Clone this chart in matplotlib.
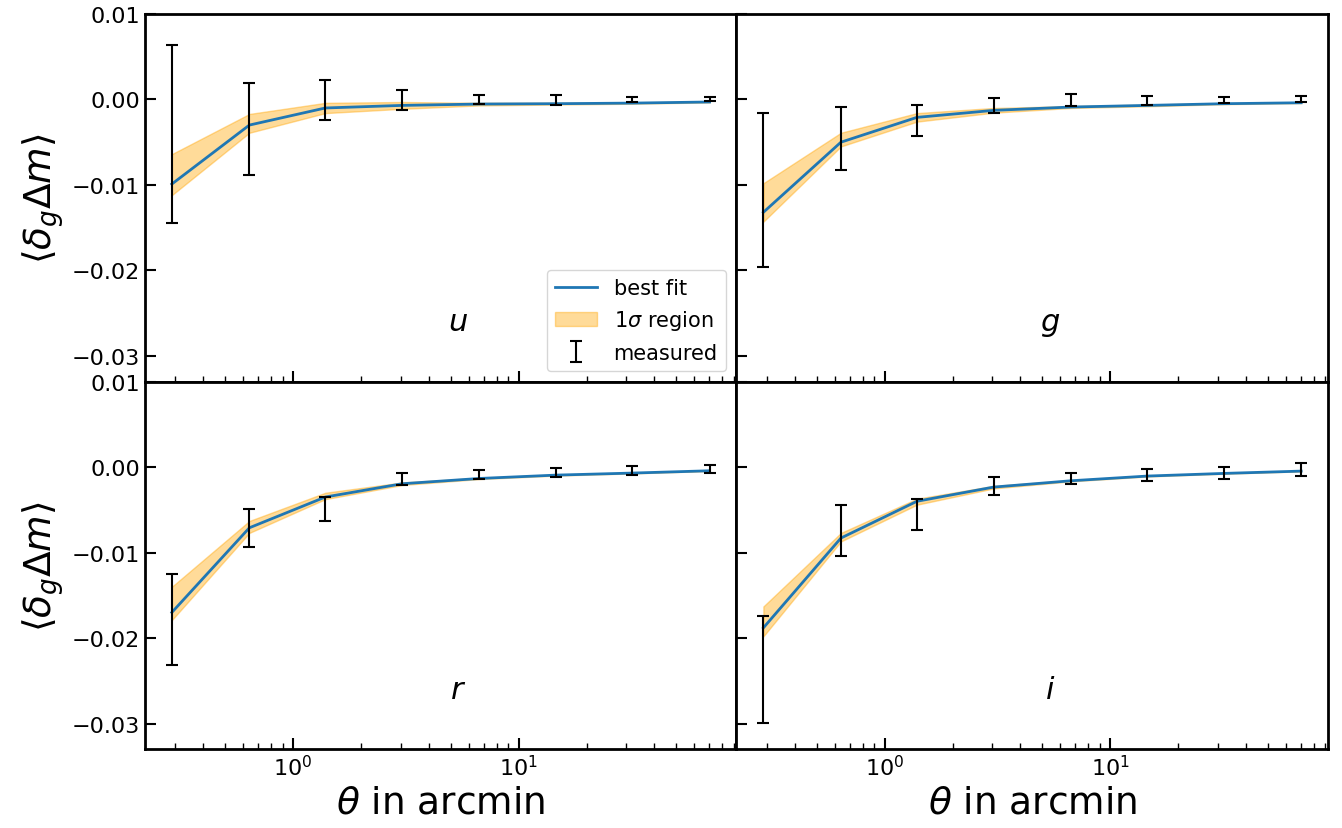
import numpy as np
import matplotlib.pyplot as plt

theta = [0.29, 0.64, 1.39, 3.04, 6.7, 14.6, 31.9, 70.2]
bands = ["u", "g", "r", "i"]

# best-fit curves
fit = {
    "u": [-0.0099, -0.0030, -0.0010, -0.0007, -0.00054, -0.0005, -0.00043, -0.0003],
    "g": [-0.0132, -0.0050, -0.0021, -0.00128, -0.00089, -0.0007, -0.0005, -0.00039],
    "r": [-0.0170, -0.0071, -0.0035, -0.00195, -0.00133, -0.00094, -0.0007, -0.00043],
    "i": [-0.0188, -0.0083, -0.0040, -0.00234, -0.0016, -0.00105, -0.00074, -0.00047],
}
# 1 sigma region (lower, upper)
lo = {
    "u": [-0.0112, -0.0039, -0.0016, -0.0011, -0.0007, -0.0006, -0.0005, -0.00035],
    "g": [-0.0143, -0.0055, -0.0026, -0.00155, -0.001, -0.0008, -0.00056, -0.00043],
    "r": [-0.0179, -0.0077, -0.00375, -0.0021, -0.0014, -0.001, -0.00074, -0.00046],
    "i": [-0.0198, -0.0087, -0.0044, -0.0025, -0.00167, -0.0011, -0.00078, -0.0005],
}
hi = {
    "u": [-0.0064, -0.0017, -0.0004, -0.0003, -0.0004, -0.0004, -0.00036, -0.00025],
    "g": [-0.0098, -0.0039, -0.0016, -0.0010, -0.00078, -0.0006, -0.00044, -0.00035],
    "r": [-0.0140, -0.0063, -0.0030, -0.0018, -0.00126, -0.00088, -0.00066, -0.0004],
    "i": [-0.0163, -0.0077, -0.0037, -0.0022, -0.00153, -0.001, -0.0007, -0.00044],
}
# measurements
meas = {
    "u": [-0.0040, -0.00345, -0.00008, -0.00004, 0.0, -0.0001, -0.00002, 0.0],
    "g": [-0.01058, -0.00457, -0.00246, -0.0007, -0.00012, -0.00016, -0.00008, 0.0],
    "r": [-0.01783, -0.00711, -0.00488, -0.0014, -0.00092, -0.00064, -0.00043, -0.0002],
    "i": [-0.02367, -0.00742, -0.00557, -0.0022, -0.00131, -0.00094, -0.0007, -0.00025],
}
err = {
    "u": [0.0104, 0.0054, 0.00236, 0.00116, 0.0005, 0.0006, 0.00033, 0.00023],
    "g": [0.00903, 0.00364, 0.0018, 0.00089, 0.0007, 0.00054, 0.00031, 0.00035],
    "r": [0.0053, 0.00223, 0.00137, 0.00074, 0.00053, 0.00049, 0.00051, 0.0005],
    "i": [0.00629, 0.00297, 0.00182, 0.00107, 0.00065, 0.00066, 0.00074, 0.00076],
}

fig, axes = plt.subplots(2, 2, figsize=(13.42, 8.29), dpi=100, sharex=True, sharey=True)
fig.subplots_adjust(left=0.108, right=0.9896, top=0.982, bottom=0.095, wspace=0, hspace=0)

for ax, b in zip(axes.flat, bands):
    ax.plot(theta, fit[b], color="tab:blue", lw=2, label="best fit", zorder=3)
    ax.fill_between(theta, lo[b], hi[b], color="orange", alpha=0.4, label=r"1$\sigma$ region")
    ax.errorbar(theta, meas[b], yerr=err[b], fmt="none", ecolor="black", elinewidth=1.5,
                capsize=4, capthick=1.5, label="measured", zorder=4)
    ax.set_xscale("log")
    ax.text(0.53, 0.14, "$" + b + "$", transform=ax.transAxes, fontsize=22, ha="center")
    ax.tick_params(which="both", direction="in", labelsize=16, width=1.5)
    ax.tick_params(which="major", length=8)
    ax.tick_params(which="minor", length=4, width=1)
    for s in ax.spines.values():
        s.set_linewidth(2)

axes[0, 0].set_ylim(-0.033, 0.01)
axes[0, 0].set_yticks([0.01, 0.0, -0.01, -0.02, -0.03])
axes[0, 0].legend(loc="lower right", fontsize=15)

for ax in axes[:, 0]:
    ax.set_ylabel(r"$\langle\delta_g\Delta m\rangle$", fontsize=27)
for ax in axes[1, :]:
    ax.set_xlabel(r"$\theta$ in arcmin", fontsize=27)

plt.savefig("out.png")
